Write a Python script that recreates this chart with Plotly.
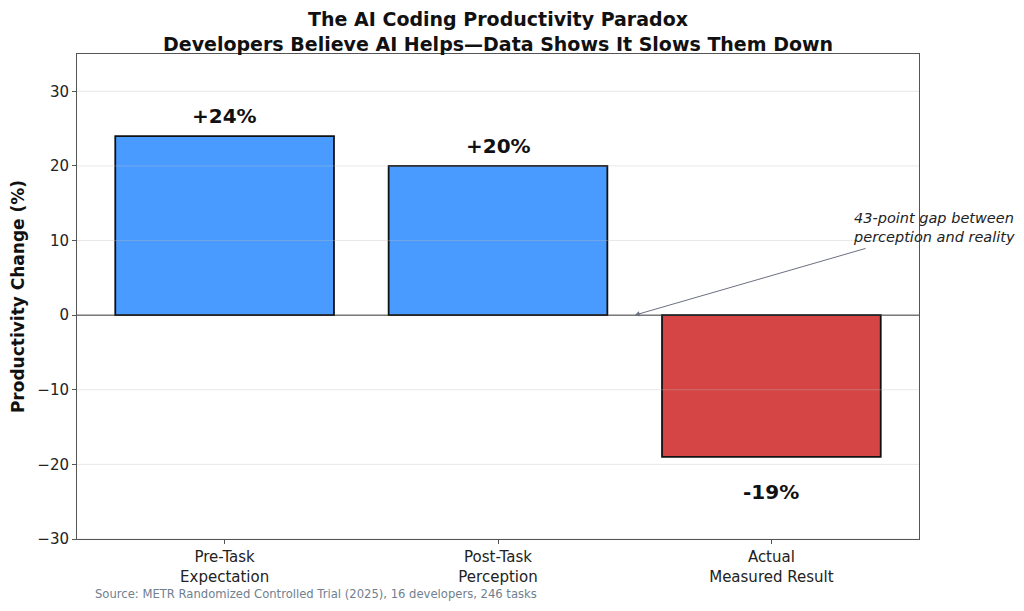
import plotly.graph_objects as go

categories = ["Pre-Task<br>Expectation", "Post-Task<br>Perception", "Actual<br>Measured Result"]
values = [24, 20, -19]
value_labels = ["+24%", "+20%", "-19%"]
bar_colors = ["#4A9BFF", "#4A9BFF", "#D64545"]
y_ticks = [-30, -20, -10, 0, 10, 20, 30]

fig = go.Figure()
fig.add_trace(go.Bar(
    x=list(range(len(categories))), y=values,
    width=0.8,
    marker=dict(color=bar_colors, line=dict(color="#111111", width=1.8)),
    hoverinfo="skip",
))

# gridlines drawn above bars (faint)
for t in y_ticks:
    if t != 0:
        fig.add_shape(type="line", xref="paper", x0=0, x1=1, yref="y", y0=t, y1=t,
                      line=dict(color="rgba(190,190,190,0.35)", width=1), layer="above")
fig.add_shape(type="line", xref="paper", x0=0, x1=1, yref="y", y0=0, y1=0,
              line=dict(color="#333333", width=1), layer="above")

for i, (v, lab) in enumerate(zip(values, value_labels)):
    fig.add_annotation(
        x=i, y=v, text=lab, showarrow=False,
        yanchor="bottom" if v >= 0 else "top",
        yshift=6 if v >= 0 else -21,
        font=dict(family="DejaVu Sans", size=20, color="#111111", weight="bold"),
    )

# arrow for the gap annotation
fig.add_annotation(
    x=1.5, y=0, xref="x", yref="y",
    ax=2.35, ay=9.0, axref="x", ayref="y",
    text="", showarrow=True, arrowhead=2, arrowsize=1, arrowwidth=1,
    arrowcolor="#6b7080",
)
fig.add_annotation(
    x=2.29, y=11.7, xref="x", yref="y",
    text="<i>43-point gap between<br>perception and reality</i>",
    align="left", xanchor="left", yanchor="middle", showarrow=False,
    font=dict(family="DejaVu Sans", size=14.5, color="#222222"),
)

fig.add_annotation(
    xref="paper", yref="paper", x=0.019, y=-0.113,
    text="Source: METR Randomized Controlled Trial (2025), 16 developers, 246 tasks",
    showarrow=False, xanchor="left", yanchor="middle",
    font=dict(family="DejaVu Sans", size=11.6, color="#708090"),
)

fig.add_annotation(
    xref="paper", yref="paper", x=0.5, y=1.047,
    text="<b>The AI Coding Productivity Paradox<br>Developers Believe AI Helps—Data Shows It Slows Them Down</b>",
    showarrow=False, xanchor="center", yanchor="middle",
    font=dict(family="DejaVu Sans", size=19, color="#111111"),
)

fig.update_layout(
    width=1016, height=603,
    margin=dict(l=69, r=105, t=46, b=72, autoexpand=False),
    paper_bgcolor="white", plot_bgcolor="white",
    showlegend=False,
    xaxis=dict(
        range=[-0.54, 2.54], tickmode="array",
        tickvals=list(range(len(categories))), ticktext=categories,
        showgrid=False, zeroline=False, automargin=False,
        showline=True, linecolor="#555555", linewidth=1, mirror=True,
        ticks="outside", ticklen=4, tickcolor="#555555",
        tickfont=dict(family="DejaVu Sans", size=15, color="#222222"),
    ),
    yaxis=dict(
        range=[-30, 35], tickmode="array", tickvals=y_ticks,
        ticktext=[("\u2212" + str(-t)) if t < 0 else str(t) for t in y_ticks],
        showgrid=False, zeroline=False, automargin=False,
        showline=True, linecolor="#555555", linewidth=1, mirror=True,
        ticks="outside", ticklen=4, tickcolor="#555555",
        tickfont=dict(family="DejaVu Sans", size=15, color="#222222"),
        title=dict(text="<b>Productivity Change (%)</b>", standoff=9,
                   font=dict(family="DejaVu Sans", size=17, color="#111111")),
    ),
)

fig.write_html("out.html")
